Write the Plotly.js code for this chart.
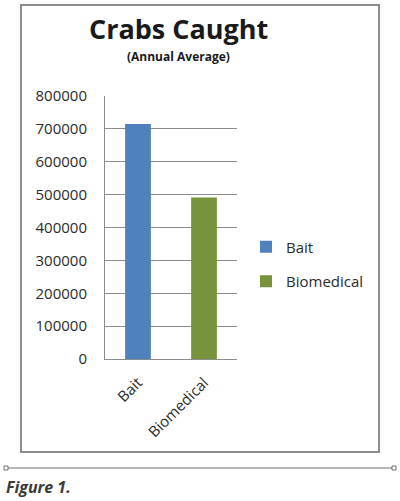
<!DOCTYPE html>
<html>
<head>
<meta charset="utf-8">
<script src="https://cdn.plot.ly/plotly-3.0.1.min.js"></script>
<style>
  html, body { margin: 0; padding: 0; background: #fff; }
  #chart { width: 400px; height: 501px; }
</style>
</head>
<body>
<div id="chart"></div>
<script>
// Crabs caught per year, by use
const categories = ['Bait', 'Biomedical'];
const crabsCaught = [715000, 491000];
const yTickValues = [0, 100000, 200000, 300000, 400000, 500000, 600000, 700000, 800000];
const yTickLabels = ['0', '100000', '200000', '300000', '400000', '500000', '600000', '700000', '800000'];

// Styling
const barColors = ['#4F81BD', '#77933C'];
const FONT = '"Open Sans", "Noto Sans", sans-serif';
const W = 400, H = 501;
// plot area in pixels
const L = 105, R = 237, T = 96, B = 359;
const px2x = p => (p - L) / (R - L);
const py2y = p => (B - p) / (B - T);

const traces = categories.map((cat, i) => ({
  type: 'bar',
  name: cat,
  x: [cat],
  y: [crabsCaught[i]],
  marker: { color: barColors[i] },
  legendgroup: cat,
  hoverinfo: 'x+y'
}));

const frameColor = '#8c8c8c';
const sepY = py2y(468);

const layout = {
  width: W,
  height: H,
  margin: { l: L, r: W - R, t: T, b: H - B, pad: 0 },
  paper_bgcolor: '#ffffff',
  plot_bgcolor: '#ffffff',
  font: { family: FONT, color: '#2b2b2b', size: 15 },
  barmode: 'overlay',
  bargap: 0.61,
  xaxis: {
    type: 'category',
    categoryorder: 'array',
    categoryarray: categories,
    tickangle: -45,
    showline: true,
    linecolor: frameColor,
    linewidth: 1,
    ticks: '',
    showgrid: false,
    ticklabelstandoff: 8,
    tickfont: { family: FONT, size: 15, color: '#2b2b2b' },
    fixedrange: true
  },
  yaxis: {
    range: [0, 800000],
    tickvals: yTickValues,
    ticktext: yTickLabels,
    showline: true,
    linecolor: frameColor,
    linewidth: 1,
    showgrid: true,
    gridcolor: frameColor,
    gridwidth: 1,
    zeroline: false,
    ticks: '',
    ticklabelstandoff: 14,
    tickfont: { family: FONT, size: 15, color: '#2b2b2b' },
    fixedrange: true
  },
  showlegend: true,
  legend: {
    x: px2x(246),
    xanchor: 'left',
    y: py2y(264),
    yanchor: 'middle',
    traceorder: 'grouped',
    tracegroupgap: 12,
    font: { family: FONT, size: 15, color: '#2b2b2b' },
    bgcolor: 'rgba(0,0,0,0)'
  },
  annotations: [
    {
      text: '<b>Crabs Caught</b>',
      xref: 'paper', yref: 'paper',
      x: px2x(178), y: py2y(29),
      xanchor: 'center', yanchor: 'middle',
      showarrow: false,
      font: { family: FONT, size: 27, color: '#1a1a1a' }
    },
    {
      text: '<b>(Annual Average)</b>',
      xref: 'paper', yref: 'paper',
      x: px2x(178), y: py2y(57),
      xanchor: 'center', yanchor: 'middle',
      showarrow: false,
      font: { family: FONT, size: 12, color: '#1a1a1a' }
    },
    {
      text: '<b><i>Figure 1.</i></b>',
      xref: 'paper', yref: 'paper',
      x: px2x(4), y: py2y(487),
      xanchor: 'left', yanchor: 'middle',
      showarrow: false,
      font: { family: FONT, size: 16, color: '#3a3a3a' }
    }
  ],
  shapes: [
    {
      type: 'rect', xref: 'paper', yref: 'paper', layer: 'below',
      x0: px2x(21), x1: px2x(379), y0: py2y(452), y1: py2y(5),
      line: { color: frameColor, width: 2 }, fillcolor: 'rgba(0,0,0,0)'
    },
    {
      type: 'line', xref: 'paper', yref: 'paper',
      x0: px2x(6), x1: px2x(394), y0: sepY, y1: sepY,
      line: { color: '#6e6e6e', width: 1 }
    },
    {
      type: 'rect', xref: 'paper', yref: 'paper',
      x0: px2x(4), x1: px2x(8), y0: py2y(470), y1: py2y(466),
      line: { color: '#6e6e6e', width: 1 }, fillcolor: '#ffffff'
    },
    {
      type: 'rect', xref: 'paper', yref: 'paper',
      x0: px2x(392), x1: px2x(396), y0: py2y(470), y1: py2y(466),
      line: { color: '#6e6e6e', width: 1 }, fillcolor: '#ffffff'
    }
  ]
};

Plotly.newPlot('chart', traces, layout, { displayModeBar: false, staticPlot: true });
</script>
</body>
</html>
